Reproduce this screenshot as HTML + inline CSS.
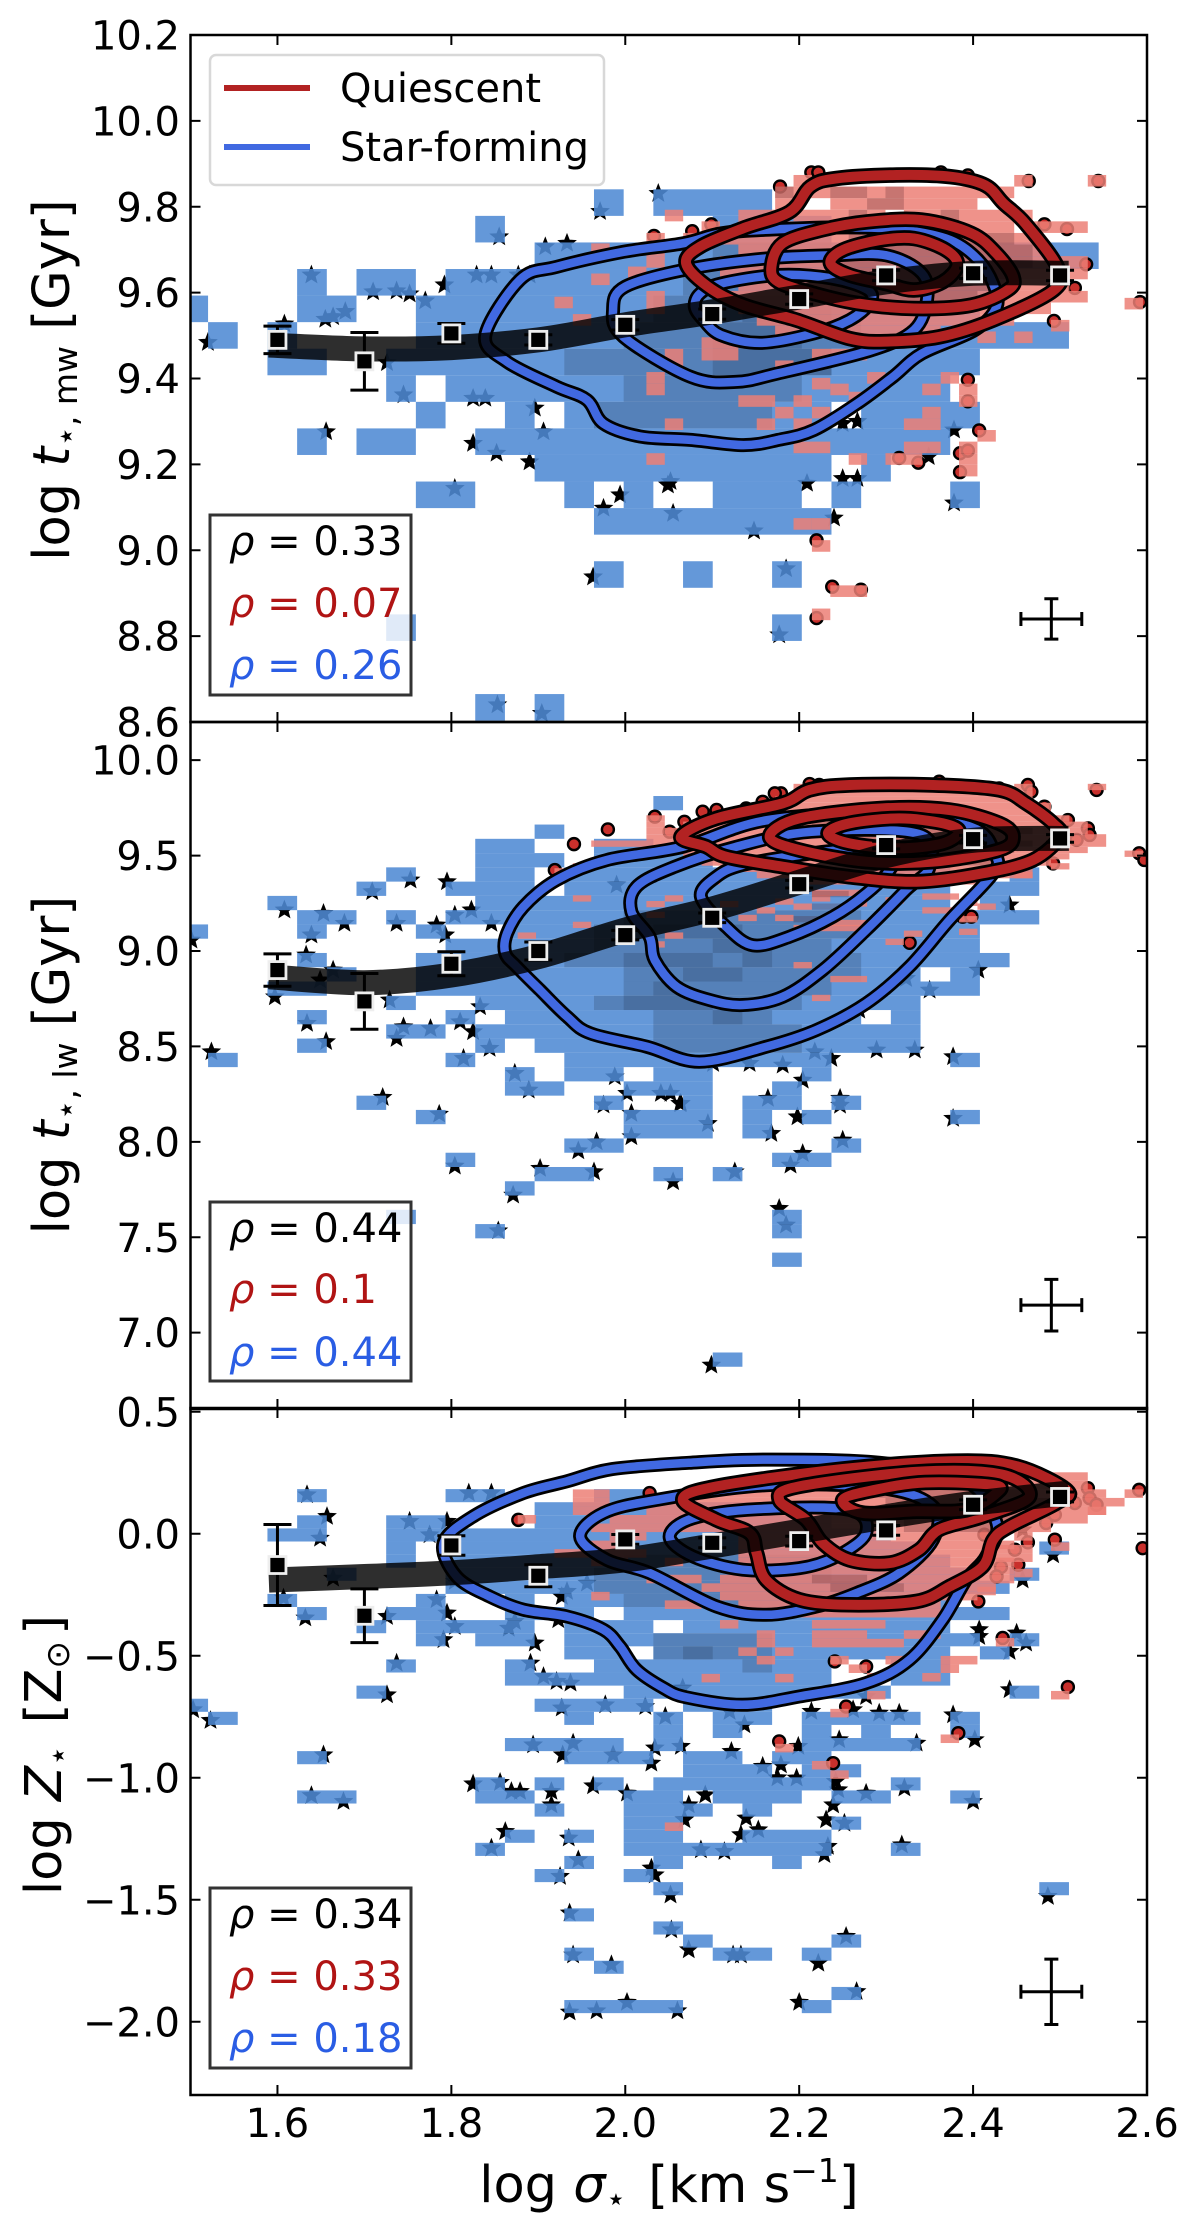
<!DOCTYPE html>
<html lang="en">
<head>
<meta charset="utf-8">
<title>Stellar age and metallicity versus velocity dispersion</title>
<style>
html,body{margin:0;padding:0;background:#fff}
svg{display:block;font-family:"DejaVu Sans","Liberation Sans",sans-serif}
</style>
</head>
<body>
<svg id="chart" xmlns="http://www.w3.org/2000/svg" width="1200" height="2236" viewBox="0 0 1200 2236">
<rect width="1200" height="2236" fill="#fff"/>
<text transform="translate(69,380) rotate(-90)" text-anchor="middle" font-size="51">log <tspan font-style="italic">t</tspan><tspan font-size="33" dy="8">⋆, mw</tspan><tspan dy="-8"> [Gyr]</tspan></text>
<text transform="translate(69,1065) rotate(-90)" text-anchor="middle" font-size="51">log <tspan font-style="italic">t</tspan><tspan font-size="33" dy="8">⋆, lw</tspan><tspan dy="-8"> [Gyr]</tspan></text>
<text transform="translate(61,1755) rotate(-90)" text-anchor="middle" font-size="51">log <tspan font-style="italic">Z</tspan><tspan font-size="33" dy="8">⋆</tspan><tspan dy="-8" dx="22">[Z</tspan><tspan font-size="33" dy="8">⊙</tspan><tspan dy="-8" dx="6">]</tspan></text>
<text x="669" y="2202" text-anchor="middle" font-size="51">log <tspan font-style="italic">σ</tspan><tspan font-size="33" dy="8">⋆</tspan><tspan dy="-8" dx="22">[km s</tspan><tspan font-size="33" dy="-20">−1</tspan><tspan dy="20">]</tspan></text>
</svg>
<script>
/* ---------- shared axis data ---------- */
const sigmaRange = [1.5, 2.6];
const sigmaTicks = [1.6, 1.8, 2.0, 2.2, 2.4, 2.6];
const sigmaTickLabels = ["1.6", "1.8", "2.0", "2.2", "2.4", "2.6"];
const trendSigma = [1.6, 1.7, 1.8, 1.9, 2.0, 2.1, 2.2, 2.3, 2.4, 2.5];
const bandSigma = [1.59, 1.7, 1.8, 1.9, 2.0, 2.1, 2.2, 2.3, 2.4, 2.51];

/* ---------- panel 1: mass-weighted age ---------- */
const rangeMw = [8.6, 10.2];
const ticksMw = [8.6, 8.8, 9.0, 9.2, 9.4, 9.6, 9.8, 10.0, 10.2];
const tickLabelsMw = ["8.6", "8.8", "9.0", "9.2", "9.4", "9.6", "9.8", "10.0", "10.2"];
const rhoMw = ["0.33", "0.07", "0.26"];
const medianMw = [9.49, 9.44, 9.505, 9.49, 9.525, 9.55, 9.585, 9.64, 9.645, 9.64];
const errorMw = [0.032, 0.067, 0.023, 0.012, 0.012, 0.012, 0.012, 0.012, 0.012, 0.012];
const bandMw = [9.478, 9.469, 9.472, 9.49, 9.525, 9.555, 9.59, 9.625, 9.645, 9.645];
const typicalErrMw = [2.49, 8.84, 0.035, 0.047];
const blueCellsMw = [[19,9,9],[19,11,11],[16,6,6],[16,19,19],[14,13,13],[14,16,16],[14,19,19],[12,13,20],[11,7,8],[11,12,12],[11,14,14],[11,17,19],[11,21,21],[11,25,25],[10,11,20],[10,22,22],[9,3,3],[9,5,6],[9,9,24],[8,7,7],[8,10,10],[8,12,20],[8,22,25],[7,6,6],[7,8,24],[6,2,3],[6,6,25],[5,0,0],[5,2,2],[5,7,28],[4,-1,-1],[4,3,4],[4,7,25],[3,3,3],[3,5,6],[3,8,26],[2,11,29],[1,9,9],[1,17,20],[0,13,13],[0,15,18]];
const blueDenseMw = [[8,13,18],[7,14,19],[6,12,20],[5,14,21],[4,15,21],[3,16,20],[2,17,20],[6,17,20],[5,17,19],[4,18,20]];
const redCellsMw = [[0,24,24],[0,20,20],[0,8,8],[1,7,19],[2,7,7],[2,10,17],[3,1,1],[3,5,6],[3,8,12],[3,14,20],[4,3,3],[4,5,7],[4,10,19],[4,21,23],[5,0,0],[5,2,20],[6,0,0],[6,5,21],[7,0,0],[7,4,23],[8,4,23],[9,5,22],[10,4,23],[11,5,21],[10.6,26,26],[12,6,19],[12.5,22,22],[13,7,15],[13.5,18,18],[13.5,20,20],[14,3,4],[15,3,4],[15,1,1],[16,1,1],[16,7,7],[15,9,11],[17,0,0],[18,0,0],[17,12,12],[18,10,10],[17.5,9,9],[18.7,11,11],[17,16,16],[18,15,15],[18,17,17],[19,5,6],[19,8,8],[19,17,17],[20,7,7],[20,9,9],[20,15,15],[21,6,6],[21,8,8],[21,1,1],[21,14,15],[22,18,18],[23,17,17],[24,17,17],[25,17,17],[23,14,15],[24,13,14],[24,11,11],[24,0,0],[23,8,9],[10.5,-5,-5],[12,-4,-4],[8.5,-3,-3],[5.9,-3,-3],[7.9,-1,-1],[10,0,0],[11,0,0],[29.6,9,9],[31.5,9,9],[35.4,10,11],[37.4,9,9],[29.6,8,8]];
const redDenseMw = [[1,7,7],[1,10,11],[1,13,13],[2,12,13],[3,11,11],[3,16,16],[5,11,19],[6,11,20],[7,10,20],[8,11,19],[9,10,18],[10,10,17],[11,13,16]];
const starsMw = [[1.52,9.484],[1.608,9.527],[1.639,9.641],[1.655,9.538],[1.664,9.544],[1.678,9.556],[1.656,9.276],[1.71,9.602],[1.737,9.604],[1.752,9.597],[1.77,9.581],[1.745,9.362],[1.726,9.437],[1.792,9.618],[1.829,9.641],[1.846,9.641],[1.877,9.641],[1.89,9.641],[1.855,9.73],[1.908,9.707],[1.933,9.715],[1.971,9.789],[2.038,9.831],[1.825,9.354],[1.839,9.354],[1.825,9.249],[1.852,9.226],[1.89,9.206],[1.906,9.276],[1.975,9.098],[1.994,9.129],[2.052,9.16],[2.055,9.086],[1.804,9.144],[1.963,8.938],[1.896,9.331],[2.185,8.957],[2.177,8.803],[1.853,8.64],[1.904,8.62],[2.378,9.11],[2.378,9.28],[2.25,9.295],[2.267,9.3],[2.349,9.218],[2.25,9.167],[2.267,9.167],[2.209,9.156],[2.049,9.152],[2.24,9.075],[2.148,9.045]];
const dotsMw = [[2.178,9.847],[2.214,9.88],[2.222,9.88],[2.363,9.88],[2.394,9.873],[2.416,9.847],[2.464,9.86],[2.482,9.759],[2.508,9.748],[2.53,9.666],[2.517,9.611],[2.493,9.534],[2.544,9.86],[2.592,9.578],[2.394,9.397],[2.394,9.347],[2.407,9.279],[2.385,9.226],[2.394,9.232],[2.385,9.182],[2.337,9.204],[2.315,9.215],[2.033,9.732],[2.077,9.743],[2.099,9.759],[2.22,9.023],[2.238,8.915],[2.271,8.908],[2.22,8.842]];
const sfOuterMw = [[1.998,9.695],[2.067,9.715],[2.11,9.738],[2.168,9.747],[2.258,9.752],[2.32,9.746],[2.374,9.722],[2.406,9.676],[2.423,9.621],[2.427,9.567],[2.402,9.513],[2.341,9.458],[2.308,9.404],[2.267,9.342],[2.217,9.28],[2.176,9.257],[2.136,9.245],[2.075,9.257],[2.017,9.265],[1.975,9.295],[1.956,9.35],[1.921,9.381],[1.864,9.439],[1.839,9.5],[1.879,9.63],[1.921,9.66]];
const sfMiddleMw = [[1.986,9.56],[2.0,9.614],[2.075,9.656],[2.164,9.68],[2.238,9.687],[2.3,9.687],[2.341,9.645],[2.347,9.583],[2.332,9.513],[2.283,9.466],[2.176,9.412],[2.127,9.392],[2.075,9.404],[1.998,9.497]];
const sfInnerMw = [[2.08,9.567],[2.086,9.598],[2.11,9.621],[2.176,9.641],[2.238,9.633],[2.279,9.606],[2.281,9.575],[2.258,9.536],[2.217,9.505],[2.156,9.483],[2.11,9.501],[2.09,9.536]];
const qOuterMw = [[2.07,9.668],[2.086,9.707],[2.136,9.75],[2.189,9.788],[2.213,9.847],[2.243,9.866],[2.312,9.874],[2.374,9.87],[2.414,9.85],[2.435,9.808],[2.46,9.761],[2.497,9.66],[2.493,9.606],[2.423,9.536],[2.361,9.497],[2.3,9.486],[2.258,9.493],[2.197,9.536],[2.136,9.571],[2.095,9.614]];
const qMiddleMw = [[2.168,9.66],[2.181,9.715],[2.226,9.746],[2.279,9.765],[2.341,9.769],[2.398,9.738],[2.427,9.691],[2.446,9.637],[2.44,9.606],[2.398,9.571],[2.332,9.563],[2.267,9.575],[2.217,9.598],[2.176,9.625]];
const qInnerMw = [[2.236,9.668],[2.25,9.699],[2.292,9.722],[2.332,9.726],[2.369,9.699],[2.382,9.664],[2.365,9.625],[2.332,9.606],[2.3,9.621],[2.258,9.641]];

/* ---------- panel 2: light-weighted age ---------- */
const rangeLw = [6.6, 10.2];
const ticksLw = [7.0, 7.5, 8.0, 8.5, 9.0, 9.5, 10.0];
const tickLabelsLw = ["7.0", "7.5", "8.0", "8.5", "9.0", "9.5", "10.0"];
const rhoLw = ["0.44", "0.1", "0.44"];
const medianLw = [8.9, 8.736, 8.933, 9.0, 9.083, 9.174, 9.35, 9.555, 9.586, 9.59];
const errorLw = [0.085, 0.146, 0.063, 0.047, 0.025, 0.025, 0.02, 0.02, 0.02, 0.02];
const bandLw = [8.865, 8.834, 8.874, 8.97, 9.11, 9.22, 9.36, 9.5, 9.58, 9.59];
const typicalErrLw = [2.49, 7.144, 0.035, 0.135];
const blueCellsLw = [[-5,15,15],[-3,11,11],[-2,9,10],[-2,13,14],[-1,9,11],[-1,13,16],[0,6,6],[0,9,10],[0,12,24],[0,27,27],[1,5,5],[1,8,10],[1,12,24],[1,26,27],[2,2,2],[2,9,24],[2,26,26],[3,3,4],[3,6,6],[3,8,27],[4,-1,-1],[4,3,3],[4,7,7],[4,10,25],[5,8,25],[6,3,3],[6,7,26],[7,4,4],[7,7,23],[7,25,25],[8,2,3],[8,7,25],[9,6,6],[9,9,23],[10,3,3],[10,8,8],[10,10,21],[10,23,23],[11,6,7],[11,9,23],[12,3,3],[12,9,9],[12,11,23],[13,0,0],[13,8,8],[13,12,20],[13,25,25],[14,10,10],[14,12,13],[14,15,16],[14,20,20],[15,10,11],[15,14,16],[15,19,19],[16,5,5],[16,13,13],[16,16,16],[16,18,19],[16,21,21],[17,7,7],[17,14,16],[17,18,18],[17,20,20],[17,25,25],[18,14,16],[18,18,18],[19,12,13],[19,21,21],[20,8,8],[20,19,20],[21,11,12],[21,15,15],[21,17,17],[22,10,10],[24,6,6],[24,19,19],[25,9,9],[25,19,19],[27,19,19],[34,17,17]];
const blueDenseLw = [[3,14,21],[4,13,21],[5,13,20],[6,12,21],[7,14,21],[8,14,20],[9,14,19],[10,15,18],[11,15,19],[12,15,19],[5,17,18],[6,18,18],[7,16,17],[8,15,15],[9,13,16],[4,15,17],[6,14,16],[10,17,17]];
const redCellsLw = [[0,8,18],[0,20,20],[0,24,24],[1,8,20],[2,7,20],[3,6,21],[4,4,21],[5,0,0],[5,3,22],[6,0,0],[6,2,23],[7,0,0],[7,1,23],[8,0,24],[9,-3,24],[10,0,23],[11,2,22],[12,3,21],[13,4,20],[14,6,20],[14,-5,-5],[15,8,17],[13.4,-5,-5],[12.6,-4,-4],[17.7,-4,-4],[21.9,-4,-4],[18.6,0,0],[17.7,1,1],[20.3,0,0],[23.6,-7,-7],[28.3,8,8],[33.5,9,9],[30.5,10,11],[24.6,13,13],[23.3,14,14],[17.4,15,16],[20.8,5,5],[19.6,6,6],[20.8,7,7],[19,8,8],[18.2,7,7],[16.8,9,11],[22.4,8,11],[21.6,10,11],[19,18,18],[23,17,17],[21,17,17],[14,20,20],[12.6,22,22],[10.6,26,26],[15,3,3],[18.6,4,4],[23.6,1,1],[25,0,0],[19.6,15,16],[18.4,17,17],[18,13,13],[18.5,11,11],[17.7,9,9]];
const redDenseLw = [[6,9,19],[7,9,20],[8,10,19],[9,10,20],[10,11,19],[11,12,18],[12,12,18],[17,9,10],[19,9,10],[21,8,9]];
const starsLw = [[1.501,9.057],[1.524,8.472],[1.597,8.76],[1.608,9.215],[1.639,9.084],[1.653,9.197],[1.633,8.979],[1.649,8.848],[1.634,8.621],[1.656,8.525],[1.664,8.9],[1.677,9.145],[1.709,9.311],[1.753,9.372],[1.737,9.145],[1.795,9.363],[1.783,9.136],[1.793,9.084],[1.729,8.743],[1.737,8.542],[1.745,8.603],[1.776,8.594],[1.721,8.233],[1.786,8.145],[1.854,7.534],[1.804,7.873],[1.871,7.721],[1.902,7.861],[1.964,7.843],[1.946,7.953],[2.007,8.027],[1.967,8.0],[2.007,8.149],[2.055,7.791],[1.975,8.193],[2.002,8.254],[1.988,8.341],[1.889,8.271],[1.873,8.359],[1.844,8.49],[1.814,8.437],[1.81,8.629],[1.833,8.708],[1.825,8.577],[1.846,9.145],[1.823,9.215],[1.804,9.188],[2.052,8.254],[2.063,8.201],[1.99,9.346],[2.126,7.843],[2.19,7.878],[2.204,7.939],[2.25,8.009],[2.177,7.651],[2.185,7.564],[2.168,8.044],[2.198,8.131],[2.164,8.228],[2.204,8.323],[2.181,8.402],[2.218,8.472],[2.237,8.437],[2.247,8.228],[2.247,8.192],[2.289,8.481],[2.333,8.481],[2.377,8.446],[2.377,8.123],[2.101,8.411],[2.143,8.411],[2.095,8.096],[2.064,8.201],[2.041,8.254],[2.442,9.241],[2.406,8.9],[2.323,8.856],[2.269,8.69],[2.35,8.795],[2.099,6.83]];
const dotsLw = [[2.179,9.826],[2.172,9.826],[2.212,9.875],[2.223,9.87],[2.158,9.782],[2.139,9.747],[2.105,9.739],[2.089,9.73],[2.068,9.677],[2.051,9.625],[2.034,9.704],[2.361,9.887],[2.463,9.87],[2.467,9.835],[2.482,9.756],[2.509,9.686],[2.532,9.643],[2.534,9.608],[2.519,9.582],[2.492,9.459],[2.542,9.844],[2.591,9.512],[2.597,9.477],[2.43,9.852],[2.388,9.18],[2.398,9.18],[2.327,9.043],[1.98,9.637],[1.941,9.56],[1.919,9.424]];
const sfOuterLw = [[2.066,9.546],[2.161,9.684],[2.293,9.719],[2.398,9.649],[2.425,9.509],[2.423,9.407],[2.373,9.162],[2.327,8.918],[2.277,8.725],[2.22,8.586],[2.162,8.498],[2.085,8.42],[2.025,8.498],[1.96,8.568],[1.933,8.656],[1.902,8.795],[1.875,8.918],[1.862,8.988],[1.864,9.092],[1.883,9.232],[1.921,9.372],[1.979,9.477]];
const sfMiddleLw = [[2.007,9.206],[2.013,9.337],[2.055,9.438],[2.126,9.544],[2.214,9.625],[2.337,9.614],[2.35,9.442],[2.323,9.32],[2.277,9.11],[2.227,8.9],[2.181,8.76],[2.135,8.717],[2.097,8.743],[2.059,8.813],[2.034,8.952],[2.028,9.075]];
const sfInnerLw = [[2.087,9.285],[2.105,9.39],[2.134,9.45],[2.196,9.5],[2.258,9.532],[2.31,9.52],[2.304,9.424],[2.277,9.3],[2.239,9.18],[2.189,9.075],[2.147,9.03],[2.116,9.127]];
const qOuterLw = [[2.064,9.599],[2.105,9.695],[2.181,9.774],[2.212,9.844],[2.258,9.87],[2.354,9.87],[2.43,9.844],[2.461,9.774],[2.492,9.669],[2.5,9.6],[2.469,9.477],[2.411,9.407],[2.335,9.363],[2.258,9.389],[2.181,9.442],[2.116,9.494],[2.093,9.547]];
const qMiddleLw = [[2.166,9.599],[2.2,9.695],[2.296,9.747],[2.373,9.739],[2.43,9.669],[2.446,9.599],[2.43,9.529],[2.354,9.468],[2.277,9.468],[2.2,9.529]];
const qInnerLw = [[2.233,9.616],[2.258,9.669],[2.315,9.695],[2.365,9.669],[2.384,9.625],[2.365,9.564],[2.315,9.538],[2.258,9.564]];

/* ---------- panel 3: metallicity ---------- */
const rangeZ = [-2.3, 0.5155];
const ticksZ = [-2.0, -1.5, -1.0, -0.5, 0.0, 0.5];
const tickLabelsZ = ["−2.0", "−1.5", "−1.0", "−0.5", "0.0", "0.5"];
const rhoZ = ["0.34", "0.33", "0.18"];
const medianZ = [-0.128, -0.336, -0.048, -0.172, -0.023, -0.037, -0.03, 0.014, 0.119, 0.151];
const errorZ = [0.166, 0.11, 0.04, 0.045, 0.02, 0.02, 0.02, 0.02, 0.02, 0.02];
const bandZ = [-0.19, -0.175, -0.16, -0.135, -0.107, -0.05, 0.01, 0.07, 0.125, 0.167];
const typicalErrZ = [2.49, -1.877, 0.035, 0.134];
const blueCellsZ = [[0,3,3],[0,8,9],[0,13,14],[1,11,18],[2,3,3],[2,6,7],[2,11,20],[3,2,3],[3,6,7],[3,8,22],[4,6,6],[4,8,23],[4,28,28],[5,6,6],[5,8,24],[6,4,4],[6,8,25],[6,27,27],[7,8,26],[8,2,2],[8,7,7],[8,10,10],[8,12,24],[9,3,3],[9,6,7],[9,10,12],[9,14,26],[10,5,5],[10,7,10],[10,12,14],[10,16,24],[11,7,7],[11,9,10],[11,12,25],[11,27,27],[12,12,13],[12,15,24],[12,26,26],[13,6,6],[13,10,10],[13,13,20],[13,23,24],[14,10,20],[14,23,24],[15,5,5],[15,14,22],[15,27,27],[16,-1,-1],[16,11,14],[16,16,18],[17,0,0],[17,12,12],[17,15,15],[17,17,18],[17,20,23],[17,25,25],[18,15,15],[18,17,17],[18,20,20],[18,22,22],[18,25,25],[19,10,13],[19,15,15],[19,20,23],[20,3,3],[20,12,14],[20,16,17],[20,19,20],[21,16,18],[21,20,21],[22,9,9],[22,11,11],[22,13,13],[22,15,20],[22,23,23],[23,3,4],[23,9,10],[23,14,15],[23,17,19],[23,21,22],[23,25,25],[24,11,11],[24,14,16],[24,18,18],[25,14,15],[25,21,21],[26,10,10],[26,12,12],[26,14,15],[26,18,20],[27,9,9],[27,14,20],[27,23,23],[28,12,12],[28,15,15],[28,19,19],[29,11,11],[29,14,14],[30,15,15],[30,28,28],[32,12,12],[33,15,15],[34,16,16],[34,21,21],[35,12,12],[35,17,18],[35,20,20],[36,13,13],[38,21,21],[39,12,15],[39,20,20]];
const blueDenseZ = [[11,15,18],[12,15,18],[13,18,18],[12,16,16],[6,13,20],[7,13,21],[5,14,20],[8,14,20]];
const redCellsZ = [[0,15,20],[1,12,23],[2,10,23],[3,-4,-3],[3,2,24],[4,-4,-3],[4,0,25],[5,-4,-3],[5,0,24],[5,24,24],[6,-7,-7],[6,-2,23],[7,-3,21],[8,-2,-1],[8,5,18],[8,20,20],[9,-3,-2],[9,5,19],[9.2,22,22],[10,-5,-1],[10,5,18],[11,-3,-2],[11,1,1],[11,5,19],[12,6,19],[13,0,2],[13,4,19],[14,3,18],[15,-3,-3],[15,4,17],[16,1,2],[16,5,15],[17,7,15],[18.3,4,4],[18.3,9,12],[19.5,6,6],[19.5,9,11],[19.5,14,15],[20.5,6,6],[20.5,9,13],[20.4,19,19],[21.5,5,5],[21.5,7,7],[22.5,6,6],[22.5,10,10],[22.5,13,13],[22.5,16,17],[23.5,11,11],[23.5,16,16],[24.5,12,12],[24.5,15,15],[24.6,3,3],[24.6,7,7],[26.6,12,12],[26.6,22,22],[28.7,10,10],[31.7,16,16],[32.8,7,7],[34.8,9,9],[35.9,10,10],[42,1,1],[3,26,26],[9.5,19,20],[10.5,19,20],[12.3,20,20],[14.4,18,18]];
const redDenseZ = [[3,12,20],[4,13,21],[5,14,21],[6,14,20],[7,14,18],[13,9,11],[14,10,13]];
const starsZ = [[1.634,0.16],[1.82,0.167],[1.846,0.167],[1.657,0.071],[1.649,-0.018],[1.752,0.051],[1.795,0.051],[1.775,-0.004],[1.607,-0.263],[1.632,-0.345],[1.664,-0.182],[1.726,-0.339],[1.783,-0.27],[1.795,-0.325],[1.804,-0.38],[1.791,-0.434],[1.866,-0.387],[1.896,-0.448],[1.873,-0.359],[1.804,-0.195],[1.923,-0.352],[1.933,-0.236],[1.956,-0.202],[1.927,-0.257],[1.737,-0.53],[1.891,-0.53],[1.906,-0.585],[1.921,-0.605],[1.937,-0.612],[1.726,-0.66],[1.503,-0.721],[1.523,-0.765],[1.927,-0.714],[1.977,-0.701],[2.023,-0.708],[2.046,-0.749],[1.94,-0.858],[1.894,-0.865],[1.928,-0.906],[1.986,-0.906],[2.034,-0.878],[2.03,-0.94],[1.653,-0.906],[1.639,-1.073],[1.676,-1.097],[1.825,-1.025],[1.856,-1.019],[1.869,-1.056],[1.879,-1.056],[1.915,-1.056],[1.915,-1.111],[1.963,-1.033],[2.002,-1.063],[1.862,-1.22],[1.846,-1.288],[1.935,-1.247],[1.946,-1.336],[2.03,-1.37],[1.925,-1.404],[2.052,-1.48],[1.936,-1.554],[2.053,-1.623],[1.94,-1.726],[1.984,-1.766],[2.073,-1.705],[2.12,-0.728],[2.214,-0.728],[2.262,-0.721],[2.292,-0.735],[2.315,-0.735],[2.377,-0.742],[2.137,-0.783],[2.402,-0.844],[2.335,-0.858],[2.246,-0.844],[2.199,-0.871],[2.122,-0.892],[2.064,-0.871],[2.179,-0.947],[2.158,-0.953],[2.175,-1.0],[2.197,-1.001],[2.242,-1.015],[2.092,-1.07],[2.245,-1.049],[2.239,-1.111],[2.277,-1.063],[2.321,-1.042],[2.4,-1.097],[2.073,-1.111],[2.139,-1.165],[2.068,-1.172],[2.231,-1.172],[2.252,-1.186],[2.153,-1.213],[2.133,-1.233],[2.233,-1.281],[2.087,-1.295],[2.114,-1.302],[2.229,-1.315],[2.318,-1.275],[2.034,-1.398],[2.486,-1.486],[2.124,-1.726],[2.133,-1.726],[2.222,-1.76],[2.254,-1.65],[2.442,-0.639],[2.457,-0.189],[2.407,-0.393],[2.407,-0.421],[2.45,-0.407],[2.461,-0.448],[2.442,-0.482],[2.492,-0.086],[2.457,0.016],[2.066,-0.632],[2.277,-0.667],[1.936,-1.96],[1.967,-1.955],[2.002,-1.92],[2.06,-1.955],[2.2,-1.92],[2.266,-1.876]];
const dotsZ = [[2.591,0.18],[2.595,-0.059],[2.532,0.187],[2.534,0.146],[2.542,0.119],[2.517,0.126],[2.494,0.078],[2.484,0.044],[2.494,-0.024],[2.463,-0.035],[2.448,-0.065],[2.432,-0.136],[2.452,-0.127],[2.427,-0.175],[2.406,-0.277],[2.434,-0.427],[2.509,-0.628],[2.254,-0.708],[2.277,-0.544],[2.177,-0.851],[2.239,-0.94],[2.383,-0.817],[2.241,-0.523],[1.877,0.057],[2.071,0.133],[2.028,0.167],[2.413,-0.004]];
const sfOuterZ = [[1.791,-0.038],[1.825,0.071],[1.883,0.167],[1.933,0.215],[1.985,0.265],[2.073,0.291],[2.161,0.304],[2.293,0.291],[2.39,0.221],[2.427,0.044],[2.415,-0.093],[2.392,-0.189],[2.365,-0.352],[2.327,-0.516],[2.277,-0.612],[2.2,-0.667],[2.135,-0.701],[2.07,-0.67],[2.044,-0.632],[2.013,-0.557],[1.994,-0.462],[1.975,-0.393],[1.933,-0.339],[1.883,-0.311],[1.844,-0.257],[1.806,-0.175]];
const sfMiddleZ = [[1.948,-0.011],[1.975,0.085],[2.036,0.139],[2.161,0.199],[2.293,0.188],[2.354,0.112],[2.354,-0.024],[2.315,-0.161],[2.266,-0.243],[2.22,-0.298],[2.162,-0.332],[2.105,-0.298],[2.028,-0.161],[1.979,-0.107]];
const sfInnerZ = [[2.051,-0.011],[2.078,0.064],[2.152,0.101],[2.258,0.098],[2.277,0.003],[2.243,-0.093],[2.2,-0.141],[2.135,-0.147],[2.078,-0.093]];
const qOuterZ = [[2.066,0.139],[2.105,0.194],[2.249,0.265],[2.381,0.298],[2.451,0.276],[2.508,0.178],[2.496,0.126],[2.442,0.03],[2.423,-0.025],[2.411,-0.134],[2.373,-0.216],[2.335,-0.277],[2.258,-0.291],[2.2,-0.27],[2.162,-0.189],[2.151,-0.079],[2.143,0.003],[2.105,0.057]];
const qMiddleZ = [[2.177,0.139],[2.2,0.194],[2.336,0.254],[2.433,0.243],[2.465,0.153],[2.411,0.071],[2.361,0.017],[2.338,-0.066],[2.304,-0.12],[2.258,-0.107],[2.227,-0.038],[2.208,0.057]];
const qInnerZ = [[2.25,0.139],[2.284,0.178],[2.345,0.21],[2.423,0.2],[2.427,0.167],[2.392,0.098],[2.335,0.092],[2.273,0.085]];

/* ---------- histogram bin definitions (data units) ---------- */
const blueSigmaOrigin = 1.5202, blueSigmaStep = 0.03414;
const redSigmaOrigin = 2.0243, redSigmaStep = 0.02115;
const blueRowTop = { mw: 9.8406, lw: 9.4383, z: 0.1831 };
const blueRowStep = { mw: 0.06187, lw: 0.07477, z: 0.05369 };
const redRowTop = { mw: 9.874, lw: 9.876, z: 0.287 };
const redRowStep = { mw: 0.027, lw: 0.033, z: 0.035 };

const NS = 'http://www.w3.org/2000/svg';
const root = document.getElementById('chart');
const plotLeft = 190.5, plotRight = 1147;

function mk(tag, parent) {
  const el = document.createElementNS(NS, tag);
  parent.appendChild(el);
  return el;
}
function sx(v) { return plotLeft + (v - sigmaRange[0]) / (sigmaRange[1] - sigmaRange[0]) * (plotRight - plotLeft); }
function yScale(range, top, bottom) { return v => bottom - (v - range[0]) / (range[1] - range[0]) * (bottom - top); }
function closedPath(points, sy) {
  const p = points.map(q => [sx(q[0]), sy(q[1])]);
  const n = p.length;
  let d = 'M' + p[0][0].toFixed(1) + ' ' + p[0][1].toFixed(1);
  for (let i = 0; i < n; i++) {
    const a = p[(i - 1 + n) % n], b = p[i], c = p[(i + 1) % n], e = p[(i + 2) % n];
    d += 'C' + (b[0] + (c[0] - a[0]) / 6).toFixed(1) + ' ' + (b[1] + (c[1] - a[1]) / 6).toFixed(1) + ' ' +
      (c[0] - (e[0] - b[0]) / 6).toFixed(1) + ' ' + (c[1] - (e[1] - b[1]) / 6).toFixed(1) + ' ' +
      c[0].toFixed(1) + ' ' + c[1].toFixed(1);
  }
  return d + 'Z';
}
function openPath(xs, ys, sy) {
  const p = xs.map((x, i) => [sx(x), sy(ys[i])]);
  let d = 'M' + p[0][0].toFixed(1) + ' ' + p[0][1].toFixed(1);
  for (let i = 0; i < p.length - 1; i++) {
    const a = p[Math.max(i - 1, 0)], b = p[i], c = p[i + 1], e = p[Math.min(i + 2, p.length - 1)];
    d += 'C' + (b[0] + (c[0] - a[0]) / 6).toFixed(1) + ' ' + (b[1] + (c[1] - a[1]) / 6).toFixed(1) + ' ' +
      (c[0] - (e[0] - b[0]) / 6).toFixed(1) + ' ' + (c[1] - (e[1] - b[1]) / 6).toFixed(1) + ' ' +
      c[0].toFixed(1) + ' ' + c[1].toFixed(1);
  }
  return d;
}
function starPoints(cx, cy, R, r) {
  const out = [];
  for (let i = 0; i < 10; i++) {
    const a = -Math.PI / 2 + i * Math.PI / 5, q = i % 2 ? r : R;
    out.push((cx + q * Math.cos(a)).toFixed(1) + ',' + (cy + q * Math.sin(a)).toFixed(1));
  }
  return out.join(' ');
}

function drawPanel(cfg) {
  const sy = yScale(cfg.range, cfg.top, cfg.bottom);
  const panel = mk('g', root);
  
  

  const clip = mk('clipPath', panel);
  clip.setAttribute('id', 'clip-' + cfg.key);
  const clipRect = mk('rect', clip);
  clipRect.setAttribute('x', plotLeft);
  clipRect.setAttribute('y', cfg.top);
  clipRect.setAttribute('width', plotRight - plotLeft);
  clipRect.setAttribute('height', cfg.bottom - cfg.top);

  const data = mk('g', panel);
  data.setAttribute('clip-path', 'url(#clip-' + cfg.key + ')');
  
  

  /* star-forming points */
  cfg.stars.forEach(s => {
    const star = mk('polygon', data);
    
    
    star.setAttribute('points', starPoints(sx(s[0]), sy(s[1]), 9, 3.9));
    star.setAttribute('fill', '#000');
    star.setAttribute('stroke', '#000');
    star.setAttribute('stroke-width', '1');
  });

  /* star-forming histogram */
  const rt = blueRowTop[cfg.key], rh = blueRowStep[cfg.key];
  cfg.blue.forEach(c => {
    const x0 = sx(blueSigmaOrigin + c[1] * blueSigmaStep), x1 = sx(blueSigmaOrigin + (c[2] + 1) * blueSigmaStep);
    const y0 = sy(rt - c[0] * rh), y1 = sy(rt - (c[0] + 1) * rh);
    const cell = mk('rect', data);
    
    
    cell.setAttribute('x', x0);
    cell.setAttribute('y', y0);
    cell.setAttribute('width', x1 - x0);
    cell.setAttribute('height', y1 - y0);
    cell.setAttribute('fill', 'rgb(78,138,212)');
    cell.setAttribute('fill-opacity', '0.88');
  });
  cfg.blueDense.forEach(c => {
    const x0 = sx(blueSigmaOrigin + c[1] * blueSigmaStep), x1 = sx(blueSigmaOrigin + (c[2] + 1) * blueSigmaStep);
    const y0 = sy(rt - c[0] * rh), y1 = sy(rt - (c[0] + 1) * rh);
    const cell = mk('rect', data);
    
    
    cell.setAttribute('x', x0);
    cell.setAttribute('y', y0);
    cell.setAttribute('width', x1 - x0);
    cell.setAttribute('height', y1 - y0);
    cell.setAttribute('fill', 'rgb(40,60,90)');
    cell.setAttribute('fill-opacity', '0.25');
  });

  /* quiescent points */
  cfg.dots.forEach(d => {
    const dot = mk('circle', data);
    
    
    dot.setAttribute('cx', sx(d[0]));
    dot.setAttribute('cy', sy(d[1]));
    dot.setAttribute('r', '6');
    dot.setAttribute('fill', '#c8302c');
    dot.setAttribute('stroke', '#000');
    dot.setAttribute('stroke-width', '2.4');
  });

  /* quiescent histogram */
  const jt = redRowTop[cfg.key], jh = redRowStep[cfg.key];
  cfg.red.forEach(c => {
    const x0 = sx(redSigmaOrigin + c[1] * redSigmaStep), x1 = sx(redSigmaOrigin + (c[2] + 1) * redSigmaStep);
    const y0 = sy(jt - c[0] * jh), y1 = sy(jt - (c[0] + 1) * jh);
    const cell = mk('rect', data);
    
    
    cell.setAttribute('x', x0);
    cell.setAttribute('y', y0);
    cell.setAttribute('width', x1 - x0);
    cell.setAttribute('height', y1 - y0);
    cell.setAttribute('fill', '#ec7f76');
    cell.setAttribute('fill-opacity', '0.85');
  });
  cfg.redDense.forEach(c => {
    const x0 = sx(redSigmaOrigin + c[1] * redSigmaStep), x1 = sx(redSigmaOrigin + (c[2] + 1) * redSigmaStep);
    const y0 = sy(jt - c[0] * jh), y1 = sy(jt - (c[0] + 1) * jh);
    const cell = mk('rect', data);
    
    
    cell.setAttribute('x', x0);
    cell.setAttribute('y', y0);
    cell.setAttribute('width', x1 - x0);
    cell.setAttribute('height', y1 - y0);
    cell.setAttribute('fill', 'rgb(80,30,40)');
    cell.setAttribute('fill-opacity', '0.25');
  });

  /* contours */
  cfg.sfContours.forEach(pts => {
    const d = closedPath(pts, sy);
    const under = mk('path', data);
    
    
    under.setAttribute('d', d);
    under.setAttribute('fill', 'none');
    under.setAttribute('stroke', '#000');
    under.setAttribute('stroke-width', '14');
    const line = mk('path', data);
    
    
    line.setAttribute('d', d);
    line.setAttribute('fill', 'none');
    line.setAttribute('stroke', '#4169e1');
    line.setAttribute('stroke-width', '8.5');
  });
  cfg.qContours.forEach(pts => {
    const d = closedPath(pts, sy);
    const under = mk('path', data);
    
    
    under.setAttribute('d', d);
    under.setAttribute('fill', 'none');
    under.setAttribute('stroke', '#000');
    under.setAttribute('stroke-width', '15.5');
    const line = mk('path', data);
    
    
    line.setAttribute('d', d);
    line.setAttribute('fill', 'none');
    line.setAttribute('stroke', '#b22222');
    line.setAttribute('stroke-width', '10');
  });

  /* running trend band */
  const band = mk('path', data);
  
  
  band.setAttribute('d', openPath(bandSigma, cfg.band, sy));
  band.setAttribute('fill', 'none');
  band.setAttribute('stroke', '#000');
  band.setAttribute('stroke-opacity', '0.82');
  band.setAttribute('stroke-width', '25');

  /* medians with error bars */
  trendSigma.forEach((s, i) => {
    const x = sx(s), yU = sy(cfg.median[i] + cfg.error[i]), yL = sy(cfg.median[i] - cfg.error[i]);
    const bar = mk('path', data);
    
    
    bar.setAttribute('d', 'M' + x + ' ' + yU + 'V' + yL + 'M' + (x - 14) + ' ' + yU + 'H' + (x + 14) + 'M' + (x - 14) + ' ' + yL + 'H' + (x + 14));
    bar.setAttribute('stroke', '#000');
    bar.setAttribute('stroke-width', '3');
    bar.setAttribute('fill', 'none');
    const sq = mk('rect', data);
    
    
    sq.setAttribute('x', x - 8.5);
    sq.setAttribute('y', sy(cfg.median[i]) - 8.5);
    sq.setAttribute('width', '17');
    sq.setAttribute('height', '17');
    sq.setAttribute('fill', '#000');
    sq.setAttribute('stroke', '#eee');
    sq.setAttribute('stroke-width', '2.8');
  });

  /* typical error cross */
  const te = cfg.typical;
  const cross = mk('path', data);
  
  
  const cxL = sx(te[0] - te[2]), cxR = sx(te[0] + te[2]), cyT = sy(te[1] + te[3]), cyB = sy(te[1] - te[3]), cc = sy(te[1]), cm = sx(te[0]);
  cross.setAttribute('d', 'M' + cxL + ' ' + cc + 'H' + cxR + 'M' + cxL + ' ' + (cc - 7) + 'V' + (cc + 7) + 'M' + cxR + ' ' + (cc - 7) + 'V' + (cc + 7) + 'M' + cm + ' ' + cyT + 'V' + cyB + 'M' + (cm - 7) + ' ' + cyT + 'H' + (cm + 7) + 'M' + (cm - 7) + ' ' + cyB + 'H' + (cm + 7));
  cross.setAttribute('stroke', '#000');
  cross.setAttribute('stroke-width', '3');
  cross.setAttribute('fill', 'none');

  /* correlation box */
  const rhoColors = ['#000', '#b01414', '#2a5de4'];
  const box = mk('rect', panel);
  
  
  box.setAttribute('x', '210');
  box.setAttribute('y', cfg.box[0]);
  box.setAttribute('width', '201');
  box.setAttribute('height', cfg.box[1] - cfg.box[0]);
  box.setAttribute('fill', '#fff');
  box.setAttribute('fill-opacity', '0.8');
  box.setAttribute('stroke', '#333');
  box.setAttribute('stroke-width', '3');
  cfg.rho.forEach((r, i) => {
    const t = mk('text', panel);
    
    
    t.setAttribute('x', '229');
    t.setAttribute('y', cfg.rhoBase[i]);
    t.setAttribute('font-size', '40');
    t.setAttribute('fill', rhoColors[i]);
    const sym = mk('tspan', t);
    sym.setAttribute('font-style', 'italic');
    sym.textContent = 'ρ';
    const val = mk('tspan', t);
    val.textContent = ' = ' + r;
  });

  /* frame */
  const frame = mk('rect', panel);
  
  
  frame.setAttribute('x', plotLeft);
  frame.setAttribute('y', cfg.top);
  frame.setAttribute('width', plotRight - plotLeft);
  frame.setAttribute('height', cfg.bottom - cfg.top);
  frame.setAttribute('fill', 'none');
  frame.setAttribute('stroke', '#000');
  frame.setAttribute('stroke-width', '2.5');

  /* ticks */
  sigmaTicks.forEach((s, i) => {
    const x = sx(s);
    const tick = mk('path', panel);
    
    
    tick.setAttribute('d', 'M' + x + ' ' + cfg.bottom + 'v-10M' + x + ' ' + cfg.top + 'v10');
    tick.setAttribute('stroke', '#000');
    tick.setAttribute('stroke-width', '2');
    if (cfg.showX) {
      const lab = mk('text', panel);
      
      
      lab.setAttribute('x', x);
      lab.setAttribute('y', cfg.bottom + 42);
      lab.setAttribute('text-anchor', 'middle');
      lab.setAttribute('font-size', '40');
      lab.textContent = sigmaTickLabels[i];
    }
  });
  cfg.ticks.forEach((v, i) => {
    const y = sy(v);
    const tick = mk('path', panel);
    
    
    tick.setAttribute('d', 'M' + plotLeft + ' ' + y + 'h10M' + plotRight + ' ' + y + 'h-10');
    tick.setAttribute('stroke', '#000');
    tick.setAttribute('stroke-width', '2');
    const lab = mk('text', panel);
    
    
    lab.setAttribute('x', '180');
    lab.setAttribute('y', y + 14.5);
    lab.setAttribute('text-anchor', 'end');
    lab.setAttribute('font-size', '40');
    lab.textContent = cfg.tickLabels[i];
  });
}

const panels = [
  { key: 'mw', top: 35, bottom: 722, range: rangeMw, ticks: ticksMw, tickLabels: tickLabelsMw, rho: rhoMw, median: medianMw, error: errorMw, band: bandMw, typical: typicalErrMw, blue: blueCellsMw, blueDense: blueDenseMw, red: redCellsMw, redDense: redDenseMw, stars: starsMw, dots: dotsMw, sfContours: [sfOuterMw, sfMiddleMw, sfInnerMw], qContours: [qOuterMw, qMiddleMw, qInnerMw], box: [515, 695], rhoBase: [555, 617, 679], showX: false },
  { key: 'lw', top: 722, bottom: 1409, range: rangeLw, ticks: ticksLw, tickLabels: tickLabelsLw, rho: rhoLw, median: medianLw, error: errorLw, band: bandLw, typical: typicalErrLw, blue: blueCellsLw, blueDense: blueDenseLw, red: redCellsLw, redDense: redDenseLw, stars: starsLw, dots: dotsLw, sfContours: [sfOuterLw, sfMiddleLw, sfInnerLw], qContours: [qOuterLw, qMiddleLw, qInnerLw], box: [1202, 1381], rhoBase: [1242, 1303, 1366], showX: false },
  { key: 'z', top: 1408, bottom: 2095, range: rangeZ, ticks: ticksZ, tickLabels: tickLabelsZ, rho: rhoZ, median: medianZ, error: errorZ, band: bandZ, typical: typicalErrZ, blue: blueCellsZ, blueDense: blueDenseZ, red: redCellsZ, redDense: redDenseZ, stars: starsZ, dots: dotsZ, sfContours: [sfOuterZ, sfMiddleZ, sfInnerZ], qContours: [qOuterZ, qMiddleZ, qInnerZ], box: [1888, 2068], rhoBase: [1928, 1990, 2052], showX: true }
];
panels.forEach(drawPanel);

/* legend */
const legend = mk('g', root);


const legendBox = mk('rect', legend);


legendBox.setAttribute('x', '210');
legendBox.setAttribute('y', '55');
legendBox.setAttribute('width', '394');
legendBox.setAttribute('height', '130');
legendBox.setAttribute('rx', '6');
legendBox.setAttribute('fill', '#fff');
legendBox.setAttribute('fill-opacity', '0.8');
legendBox.setAttribute('stroke', '#d8d8d8');
legendBox.setAttribute('stroke-width', '2.5');
const legendNames = ['Quiescent', 'Star-forming'];
const legendColors = ['#b22222', '#4169e1'];
const legendRows = [88, 147];
legendNames.forEach((name, i) => {
  const swatch = mk('line', legend);
  
  
  swatch.setAttribute('x1', '224');
  swatch.setAttribute('x2', '310');
  swatch.setAttribute('y1', legendRows[i]);
  swatch.setAttribute('y2', legendRows[i]);
  swatch.setAttribute('stroke', legendColors[i]);
  swatch.setAttribute('stroke-width', '6');
  const label = mk('text', legend);
  
  
  label.setAttribute('x', '340');
  label.setAttribute('y', legendRows[i] + 14);
  label.setAttribute('font-size', '40');
  label.textContent = name;
});
</script>
</body>
</html>
